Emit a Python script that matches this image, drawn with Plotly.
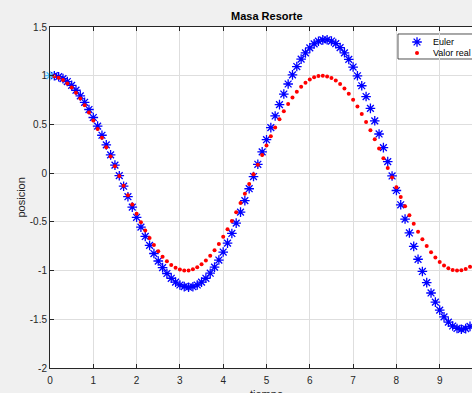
import plotly.graph_objects as go

t = [round(0.1 * i, 1) for i in range(101)]

euler = [1.000, 1.000, 0.990, 0.970, 0.940, 0.901, 0.851, 0.793, 0.727, 0.653,
         0.571, 0.483, 0.389, 0.290, 0.187, 0.082, -0.026, -0.134, -0.242, -0.349,
         -0.453, -0.554, -0.650, -0.741, -0.825, -0.902, -0.970, -1.030, -1.079, -1.119,
         -1.148, -1.165, -1.171, -1.166, -1.148, -1.119, -1.079, -1.027, -0.965, -0.892,
         -0.810, -0.718, -0.619, -0.513, -0.400, -0.282, -0.160, -0.035, 0.091, 0.218,
         0.343, 0.467, 0.587, 0.703, 0.812, 0.915, 1.009, 1.094, 1.170, 1.234,
         1.286, 1.327, 1.354, 1.368, 1.369, 1.356, 1.329, 1.288, 1.235, 1.168,
         1.089, 0.999, 0.897, 0.786, 0.665, 0.537, 0.402, 0.262, 0.118, -0.029,
         -0.178, -0.325, -0.471, -0.614, -0.752, -0.884, -1.009, -1.124, -1.230, -1.324,
         -1.406, -1.475, -1.529, -1.569, -1.594, -1.603, -1.596, -1.573, -1.534, -1.479,
         -1.409]

real = [1.000, 0.995, 0.980, 0.955, 0.921, 0.878, 0.825, 0.765, 0.697, 0.622,
        0.540, 0.454, 0.362, 0.267, 0.170, 0.071, -0.029, -0.129, -0.227, -0.323,
        -0.416, -0.505, -0.589, -0.666, -0.737, -0.801, -0.857, -0.904, -0.942, -0.971,
        -0.990, -0.999, -0.998, -0.987, -0.967, -0.936, -0.897, -0.848, -0.791, -0.726,
        -0.654, -0.575, -0.490, -0.401, -0.307, -0.211, -0.112, -0.012, 0.087, 0.187,
        0.284, 0.378, 0.469, 0.554, 0.635, 0.709, 0.776, 0.835, 0.886, 0.927,
        0.960, 0.983, 0.997, 1.000, 0.993, 0.977, 0.951, 0.915, 0.869, 0.815,
        0.754, 0.685, 0.608, 0.526, 0.439, 0.347, 0.252, 0.154, 0.054, -0.046,
        -0.146, -0.244, -0.340, -0.432, -0.519, -0.602, -0.678, -0.748, -0.811, -0.865,
        -0.911, -0.948, -0.975, -0.993, -1.000, -0.997, -0.984, -0.962, -0.930, -0.889,
        -0.839]

x_ticks = [0, 1, 2, 3, 4, 5, 6, 7, 8, 9, 10]
y_ticks = [-2, -1.5, -1, -0.5, 0, 0.5, 1, 1.5]
y_tick_text = ["-2", "-1.5", "-1", "-0.5", "0", "0.5", "1", "1.5"]
legend_names = ["Euler", "Valor real"]

FONT = "Liberation Sans, Arial, Helvetica, sans-serif"
AX = "#262626"
GRID = "#dedede"
BLUE = "#0000ff"
RED = "#ff0000"
CYAN = "#4cc4ff"

star = dict(symbol="asterisk-open", size=8, color=BLUE, line=dict(color=BLUE, width=1.3))
dot = dict(symbol="circle", size=4, color=RED, line=dict(width=0))

fig = go.Figure()
fig.add_trace(go.Scatter(x=t[1:], y=euler[1:], mode="markers", name=legend_names[0],
                         marker=star, showlegend=False))
fig.add_trace(go.Scatter(x=t, y=real, mode="markers", name=legend_names[1],
                         marker=dot, showlegend=False))
fig.add_trace(go.Scatter(x=t[:1], y=euler[:1], mode="markers", showlegend=False,
                         cliponaxis=False,
                         marker=dict(symbol="asterisk-open", size=8, color=CYAN,
                                     line=dict(color=CYAN, width=1.3))))

# compact MATLAB-like legend (box drawn as a shape, glyphs on a hidden overlay axis)
LX0, LX1, LY0, LY1 = 0.8246, 1.1, 0.9062, 0.9795
ROWS = [0.956, 0.9238]
MX, TX = 0.8697, 0.9028
fig.add_trace(go.Scatter(x=[MX], y=[ROWS[0]], xaxis="x2", yaxis="y2", mode="markers",
                         marker=star, showlegend=False, hoverinfo="skip"))
fig.add_trace(go.Scatter(x=[MX], y=[ROWS[1]], xaxis="x2", yaxis="y2", mode="markers",
                         marker=dot, showlegend=False, hoverinfo="skip"))

box_path = f"M {LX1} {LY0} L {LX0} {LY0} L {LX0} {LY1} L {LX1} {LY1}"

fig.update_layout(
    width=472, height=393,
    margin=dict(l=50, r=0, t=27, b=25, autoexpand=False),
    paper_bgcolor="#f0f0f0", plot_bgcolor="#ffffff",
    font=dict(family=FONT, size=10, color=AX),
    showlegend=False,
    xaxis=dict(range=[0, 9.746], tickvals=x_ticks, ticks="inside", ticklen=4,
               tickcolor=AX, showline=True, linecolor=AX, linewidth=1,
               mirror="ticks", showgrid=True, gridcolor=GRID, gridwidth=1,
               zeroline=False, ticklabelstandoff=3,
               tickfont=dict(family=FONT, size=10, color=AX)),
    yaxis=dict(range=[-2, 1.5], tickvals=y_ticks, ticktext=y_tick_text,
               ticks="inside", ticklen=4, tickcolor=AX, showline=True,
               linecolor=AX, linewidth=1, mirror=False, showgrid=True,
               gridcolor=GRID, gridwidth=1, zeroline=False,
               tickfont=dict(family=FONT, size=10, color=AX)),
    xaxis2=dict(overlaying="x", range=[0, 1], visible=False, fixedrange=True),
    yaxis2=dict(overlaying="y", range=[0, 1], visible=False, fixedrange=True),
    shapes=[
        dict(type="rect", xref="paper", yref="paper", x0=LX0, x1=LX1,
             y0=LY0, y1=LY1, fillcolor="#ffffff", layer="between",
             line=dict(width=0)),
        dict(type="path", xref="paper", yref="paper", path=box_path,
             layer="between", line=dict(color=AX, width=0.8)),
    ],
    annotations=[
        dict(text="<b>Masa Resorte</b>", xref="x", x=5, yref="paper", y=1,
             yanchor="bottom", yshift=3, showarrow=False,
             font=dict(family=FONT, size=11, color="#000000")),
        dict(text="tiempo", xref="x", x=5, yref="paper", y=0,
             yanchor="top", yshift=-18, showarrow=False,
             font=dict(family=FONT, size=11, color=AX)),
        dict(text="posicion", xref="paper", x=0, xshift=-30, xanchor="center",
             yref="paper", y=0.5, textangle=-90, showarrow=False,
             font=dict(family=FONT, size=11, color=AX)),
        dict(text=legend_names[0], xref="paper", x=TX, xanchor="left",
             yref="paper", y=ROWS[0], yanchor="middle", showarrow=False,
             font=dict(family=FONT, size=9, color="#000000")),
        dict(text=legend_names[1], xref="paper", x=TX, xanchor="left",
             yref="paper", y=ROWS[1], yanchor="middle", showarrow=False,
             font=dict(family=FONT, size=9, color="#000000")),
    ],
)

fig.write_html(
    "out.html",
    config={"displayModeBar": False},
    post_script="document.body.style.margin='0';"
                "document.body.style.background='#f0f0f0';",
)
